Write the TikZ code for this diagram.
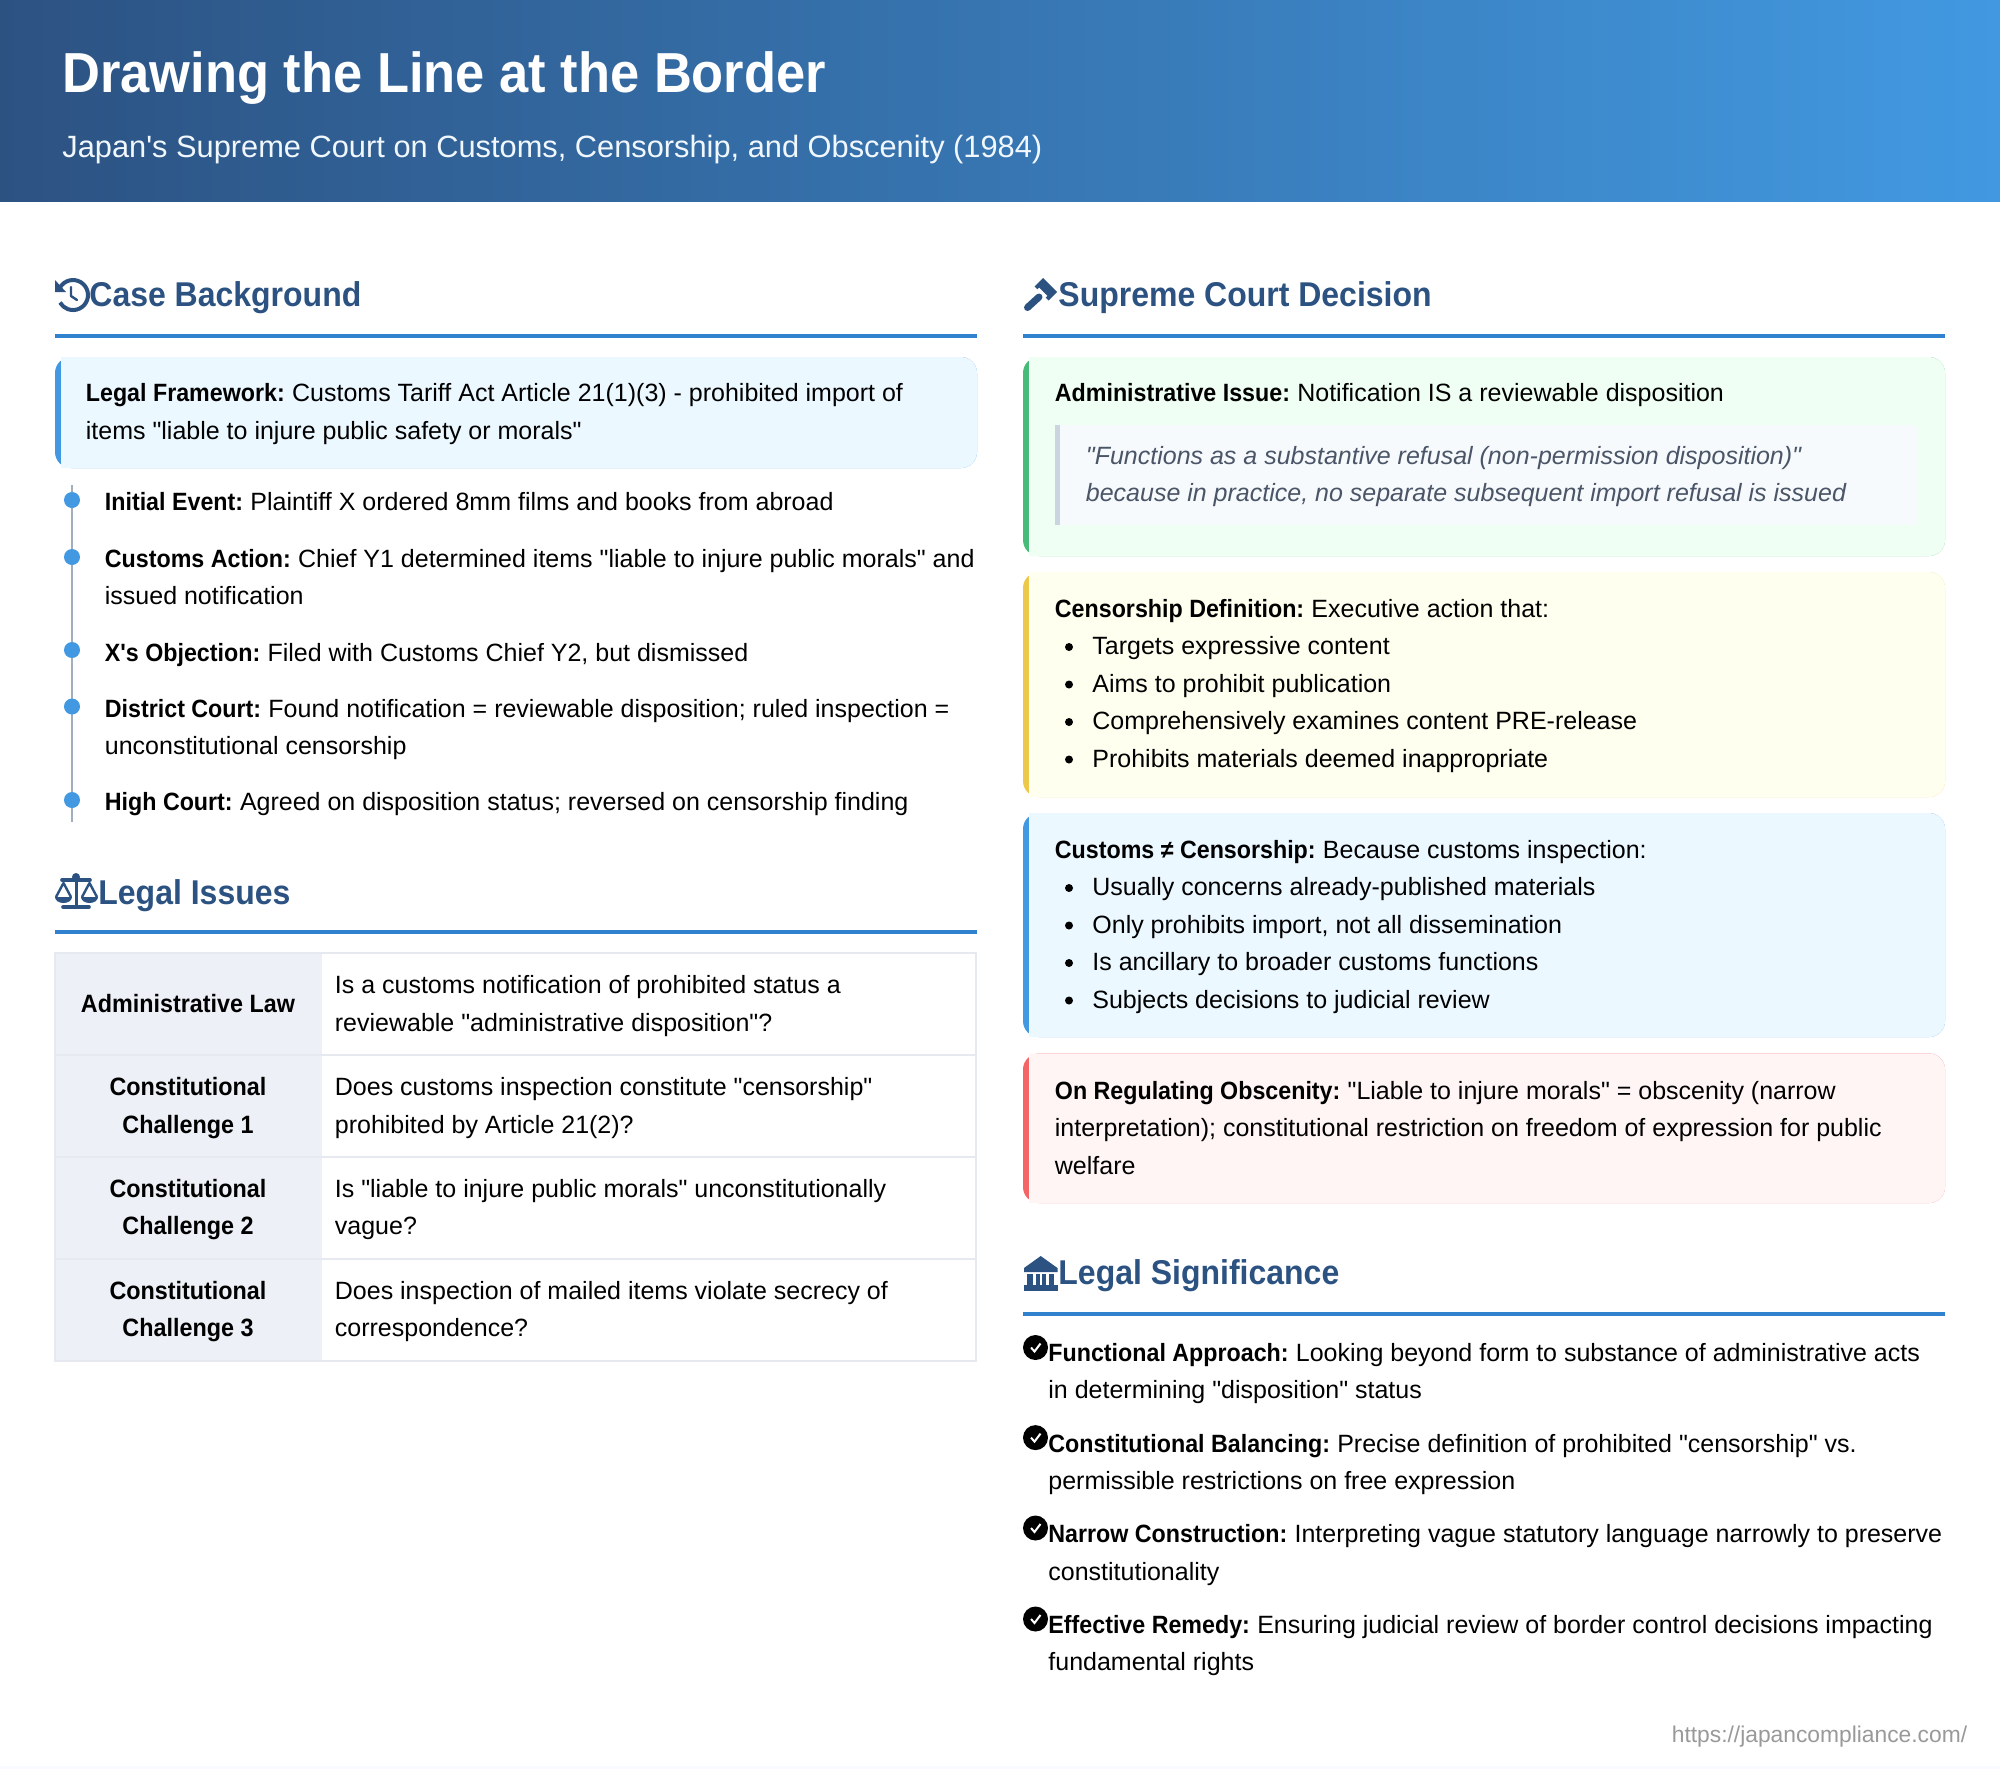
\documentclass[tikz,border=0pt]{standalone}
\usepackage{fontspec}
\setmainfont{Liberation Sans}[Ligatures=TeXOff,BoldFeatures={FakeStretch=0.93}]
\usetikzlibrary{positioning}
\definecolor{navy}{HTML}{2C5282}
\definecolor{sky}{HTML}{4299E1}
\definecolor{rulecol}{HTML}{3182CE}
\definecolor{bluebg}{HTML}{EBF8FF}
\definecolor{greenbg}{HTML}{F0FFF4}
\definecolor{greenbar}{HTML}{48BB78}
\definecolor{yellowbg}{HTML}{FFFFF0}
\definecolor{yellowbar}{HTML}{ECC94B}
\definecolor{redbg}{HTML}{FFF5F5}
\definecolor{redbar}{HTML}{F56565}
\definecolor{quotebg}{HTML}{F7FAFC}
\definecolor{quotebar}{HTML}{CBD5E0}
\definecolor{quotetext}{HTML}{4A5568}
\definecolor{cellbg}{HTML}{EDF0F6}
\definecolor{cellline}{HTML}{E6EAF0}
\definecolor{axis}{HTML}{A0AEC0}
\definecolor{faint}{HTML}{F8FAFF}
\newcommand{\lab}[1]{\textbf{#1}\kern-1pt\relax}
\begin{document}
\begin{tikzpicture}[x=0.5pt, y=-0.5pt]
\tikzstyle{body} = [anchor=base west, inner sep=0pt, align=left, font=\fontsize{12.5}{18.7}\selectfont]
\tikzstyle{cell} = [anchor=base, inner sep=0pt, align=center, font=\fontsize{12.55}{18.7}\selectfont\bfseries]
\tikzstyle{quote} = [body, text=quotetext, font=\fontsize{12.5}{18.7}\selectfont\itshape]
\tikzstyle{sect} = [anchor=base west, inner sep=0pt, text=navy, font=\fontsize{17.2}{21}\selectfont\bfseries]
\tikzstyle{dot} = [circle, fill=sky, minimum size=8pt, inner sep=0pt]
\tikzstyle{bullet} = [circle, fill=black, minimum size=4pt, inner sep=0pt]
\tikzstyle{tick} = [circle, fill=black, minimum size=12.5pt, inner sep=0pt]
\tikzstyle{rulebar} = [rulecol, line width=2pt]
\useasboundingbox (0,0) rectangle (2000,1769);
\fill[white] (0,0) rectangle (2000,1769);
\fill[faint] (0,1766) rectangle (2000,1769);

% header
\shade[left color=navy, right color=sky] (0,0) rectangle (2000,201.5);
\node[anchor=base west, inner sep=0pt, text=white, font=\fontsize{28.2}{32}\selectfont\bfseries] (title) at (62,92) {Drawing the Line at the Border};
\node[anchor=base west, inner sep=0pt, text=white!92!sky, font=\fontsize{15.4}{19}\selectfont] (subtitle) at (62,157) {Japan's Supreme Court on Customs, Censorship, and Obscenity (1984)};

% case background
\node[sect] (bghead) at (89,306.5) {Case Background};
\draw[rulebar] (55,335.5) -- (977,335.5);
\draw[navy, line width=2pt] (58.9,289.9) arc (-160:150:15);
\fill[navy] (55,280) -- (55,292) -- (66,292) -- cycle;
\draw[navy, line width=1.2pt, line cap=round, line join=round] (71,287) -- (71,296) -- (77,300);

\fill[sky, rounded corners=8] (55,357) rectangle (977,468);
\fill[bluebg, rounded corners=8] (80,357) -- (977,357) -- (977,468) -- (80,468) [sharp corners] -- (61,468) -- (61,357) -- cycle;
\node[body] (frame) at (85.5,439) {\lab{Legal Framework:} Customs Tariff Act Article 21(1)(3) - prohibited import of\\items "liable to injure public safety or morals"};

\coordinate (tltop) at (72,485);
\coordinate (tlend) at (72,822);
\draw[axis, line width=1.4pt] (tltop) -- (tlend);
\node[dot] (d1) at (72,500) {};
\node[dot] (d2) at (72,557) {};
\node[dot] (d3) at (72,650) {};
\node[dot] (d4) at (72,706.5) {};
\node[dot] (d5) at (72,800) {};
\node[body] (e1) at (104.5,510.6) {\lab{Initial Event:} Plaintiff X ordered 8mm films and books from abroad};
\node[body] (e2) at (104.5,604.7) {\lab{Customs Action:} Chief Y1 determined items "liable to injure public morals" and\\issued notification};
\node[body] (e3) at (104.5,661) {\lab{X's Objection:} Filed with Customs Chief Y2, but dismissed};
\node[body] (e4) at (104.5,754.7) {\lab{District Court:} Found notification = reviewable disposition; ruled inspection =\\unconstitutional censorship};
\node[body] (e5) at (104.5,810.6) {\lab{High Court:} Agreed on disposition status; reversed on censorship finding};

% legal issues
\node[sect] (ishead) at (98,904) {Legal Issues};
\draw[rulebar] (55,931.5) -- (977,931.5);
\draw[navy, line width=1.5pt] (76,876) -- (76,907);
\draw[navy, line width=1.8pt, line cap=round] (62,880) -- (90,880);
\draw[navy, line width=1.8pt, line cap=round] (63,907) -- (89,907);
\fill[navy] (76,877) circle (4);
\draw[navy, line width=1.2pt, line join=round] (56,897) -- (63.5,883) -- (71,897);
\draw[navy, line width=1.2pt, line join=round] (82,897) -- (89.5,883) -- (97,897);
\fill[navy] (55,897) arc (180:0:8.5 and 6) -- cycle;
\fill[navy] (81,897) arc (180:0:8.5 and 6) -- cycle;

\fill[cellbg] (55,953) rectangle (322,1361);
\draw[cellline, line width=0.9pt] (55,953) rectangle (976,1361);
\draw[cellline, line width=0.9pt] (55,1055) -- (976,1055);
\draw[cellline, line width=0.9pt] (55,1157) -- (976,1157);
\draw[cellline, line width=0.9pt] (55,1259) -- (976,1259);
\node[cell] (c1) at (188,1012) {Administrative Law};
\node[cell] (c2) at (188,1133) {Constitutional\\Challenge 1};
\node[cell] (c3) at (188,1234.7) {Constitutional\\Challenge 2};
\node[cell] (c4) at (188,1336.4) {Constitutional\\Challenge 3};
\node[body] (q1) at (334.5,1031.3) {Is a customs notification of prohibited status a\\reviewable "administrative disposition"?};
\node[body] (q2) at (334.5,1133) {Does customs inspection constitute "censorship"\\prohibited by Article 21(2)?};
\node[body] (q3) at (334.5,1234.7) {Is "liable to injure public morals" unconstitutionally\\vague?};
\node[body] (q4) at (334.5,1336.4) {Does inspection of mailed items violate secrecy of\\correspondence?};

% supreme court decision
\node[sect] (dchead) at (1058,306.5) {Supreme Court Decision};
\draw[rulebar] (1023,335.5) -- (1945,335.5);
\fill[navy] (1043,278) -- (1057,292) -- (1048.5,300.5) -- (1045.7,297.7) -- (1047.5,295.9) -- (1039.1,287.5) -- (1037.3,289.3) -- (1034.5,286.5) -- cycle;
\draw[navy, line width=3.5pt, line cap=round] (1027.5,307.5) -- (1039,297);

\fill[greenbar, rounded corners=8] (1023,357) rectangle (1945,556);
\fill[greenbg, rounded corners=8] (1048,357) -- (1945,357) -- (1945,556) -- (1048,556) [sharp corners] -- (1029,556) -- (1029,357) -- cycle;
\node[body] (p1) at (1054.5,401.6) {\lab{Administrative Issue:} Notification IS a reviewable disposition};
\fill[quotebg] (1055,425) rectangle (1918,525);
\fill[quotebar] (1055,425) rectangle (1060,525);
\node[quote] (pq) at (1085.5,501.6) {"Functions as a substantive refusal (non-permission disposition)"\\because in practice, no separate subsequent import refusal is issued};

\fill[yellowbar, rounded corners=8] (1023,572) rectangle (1945,797);
\fill[yellowbg, rounded corners=8] (1048,572) -- (1945,572) -- (1945,797) -- (1048,797) [sharp corners] -- (1029,797) -- (1029,572) -- cycle;
\node[body] (p2) at (1054.5,617) {\lab{Censorship Definition:} Executive action that:};
\node[bullet] (b21) at (1069,647) {};
\node[bullet] (b22) at (1069,684.5) {};
\node[bullet] (b23) at (1069,722) {};
\node[bullet] (b24) at (1069,759.5) {};
\node[body] (t21) at (1092,654.7) {Targets expressive content};
\node[body] (t22) at (1092,692) {Aims to prohibit publication};
\node[body] (t23) at (1092,729.5) {Comprehensively examines content PRE-release};
\node[body] (t24) at (1092,767) {Prohibits materials deemed inappropriate};

\fill[sky, rounded corners=8] (1023,813) rectangle (1945,1037);
\fill[bluebg, rounded corners=8] (1048,813) -- (1945,813) -- (1945,1037) -- (1048,1037) [sharp corners] -- (1029,1037) -- (1029,813) -- cycle;
\node[body] (p3) at (1054.5,858) {\lab{Customs ≠ Censorship:} Because customs inspection:};
\node[bullet] (b31) at (1069,888) {};
\node[bullet] (b32) at (1069,925.5) {};
\node[bullet] (b33) at (1069,963) {};
\node[bullet] (b34) at (1069,1000.5) {};
\node[body] (t31) at (1092,895.7) {Usually concerns already-published materials};
\node[body] (t32) at (1092,933) {Only prohibits import, not all dissemination};
\node[body] (t33) at (1092,970.5) {Is ancillary to broader customs functions};
\node[body] (t34) at (1092,1008) {Subjects decisions to judicial review};

\fill[redbar, rounded corners=8] (1023,1053.5) rectangle (1945,1203);
\fill[redbg, rounded corners=8] (1048,1053.5) -- (1945,1053.5) -- (1945,1203) -- (1048,1203) [sharp corners] -- (1029,1203) -- (1029,1053.5) -- cycle;
\node[body] (p4) at (1054.5,1174) {\lab{On Regulating Obscenity:} "Liable to injure morals" = obscenity (narrow\\interpretation); constitutional restriction on freedom of expression for public\\welfare};

% legal significance
\node[sect] (sghead) at (1058,1284) {Legal Significance};
\draw[rulebar] (1023,1313.5) -- (1945,1313.5);
\fill[navy] (1024,1268) -- (1040.7,1256) -- (1057.5,1268) -- (1057.5,1272) -- (1024,1272) -- cycle;
\fill[navy] (1023.5,1285) rectangle (1058,1290.5);
\fill[navy] (1027,1274) rectangle (1033,1285);
\fill[navy] (1036,1274) rectangle (1040,1285);
\fill[navy] (1042,1274) rectangle (1046,1285);
\fill[navy] (1049,1274) rectangle (1054,1285);

\node[tick] (k1) at (1035.5,1347.5) {};
\node[tick] (k2) at (1035.5,1437.6) {};
\node[tick] (k3) at (1035.5,1528) {};
\node[tick] (k4) at (1035.5,1619) {};
\foreach \k in {k1,k2,k3,k4}
    \draw[white, line width=1pt] ([shift={(-4.5,0)}]\k.center) -- ([shift={(-1,4)}]\k.center) -- ([shift={(5,-4)}]\k.center);
\node[body] (s1) at (1048,1398.4) {\lab{Functional Approach:} Looking beyond form to substance of administrative acts\\in determining "disposition" status};
\node[body] (s2) at (1048,1489.5) {\lab{Constitutional Balancing:} Precise definition of prohibited "censorship" vs.\\permissible restrictions on free expression};
\node[body] (s3) at (1048,1580) {\lab{Narrow Construction:} Interpreting vague statutory language narrowly to preserve\\constitutionality};
\node[body] (s4) at (1048,1670.5) {\lab{Effective Remedy:} Ensuring judicial review of border control decisions impacting\\fundamental rights};

\node[anchor=base east, inner sep=0pt, text=black!40, font=\fontsize{11.4}{14}\selectfont] (url) at (1967.5,1742) {https://japancompliance.com/};
\end{tikzpicture}
\end{document}
